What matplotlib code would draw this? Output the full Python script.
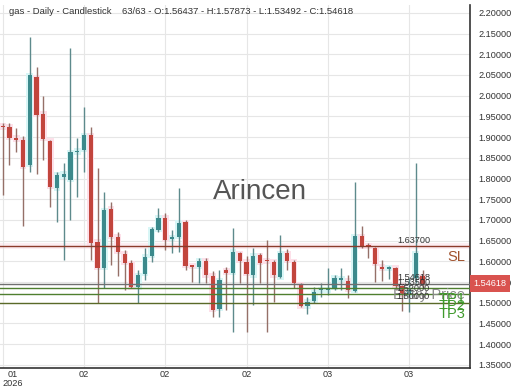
import matplotlib
matplotlib.use("Agg")
import matplotlib.pyplot as plt
import matplotlib.transforms as mtransforms
import numpy as np

plt.rcParams['font.family'] = ['Liberation Sans', 'DejaVu Sans']

title = "gas - Daily - Candlestick    63/63 - O:1.56437 - H:1.57873 - L:1.53492 - C:1.54618"
watermark = "Arincen"

opens = [1.926, 1.925, 1.898, 1.893, 1.833, 2.045, 1.956, 1.891, 1.777, 1.804,
         1.797, 1.864, 1.869, 1.905, 1.647, 1.584, 1.727, 1.659, 1.618, 1.596,
         1.538, 1.570, 1.613, 1.676, 1.705, 1.655, 1.659, 1.695, 1.589, 1.587,
         1.601, 1.565, 1.485, 1.579, 1.572, 1.620, 1.599, 1.567, 1.615, 1.602,
         1.599, 1.562, 1.620, 1.599, 1.545, 1.492, 1.504, 1.530, 1.530, 1.536,
         1.556, 1.553, 1.529, 1.661, 1.638, 1.632, 1.587, 1.582, 1.584, 1.541,
         1.519, 1.560, 1.56437]
highs = [1.934, 1.934, 1.922, 1.903, 2.142, 2.070, 2.000, 1.893, 1.816, 1.838,
         2.115, 1.898, 1.973, 1.925, 1.826, 1.768, 1.743, 1.672, 1.628, 1.603,
         1.578, 1.632, 1.683, 1.729, 1.717, 1.676, 1.777, 1.700, 1.591, 1.608,
         1.608, 1.577, 1.579, 1.586, 1.681, 1.623, 1.612, 1.632, 1.620, 1.652,
         1.603, 1.664, 1.630, 1.603, 1.548, 1.515, 1.538, 1.548, 1.584, 1.567,
         1.584, 1.567, 1.792, 1.686, 1.644, 1.635, 1.603, 1.589, 1.586, 1.543,
         1.560, 1.838, 1.57873]
lows = [1.760, 1.833, 1.864, 1.686, 1.816, 1.811, 1.845, 1.731, 1.695, 1.603,
        1.700, 1.756, 1.816, 1.603, 1.500, 1.536, 1.591, 1.565, 1.531, 1.536,
        1.500, 1.555, 1.599, 1.671, 1.628, 1.620, 1.623, 1.579, 1.550, 1.548,
        1.548, 1.466, 1.466, 1.483, 1.429, 1.548, 1.429, 1.495, 1.548, 1.429,
        1.502, 1.560, 1.579, 1.536, 1.490, 1.473, 1.500, 1.514, 1.519, 1.531,
        1.531, 1.512, 1.526, 1.632, 1.608, 1.550, 1.553, 1.557, 1.531, 1.480,
        1.478, 1.548, 1.53492]
closes = [1.924, 1.898, 1.893, 1.828, 2.050, 1.954, 1.896, 1.780, 1.809, 1.811,
          1.864, 1.867, 1.905, 1.644, 1.584, 1.724, 1.659, 1.623, 1.596, 1.538,
          1.567, 1.611, 1.678, 1.705, 1.652, 1.658, 1.693, 1.589, 1.587, 1.601,
          1.567, 1.483, 1.555, 1.572, 1.623, 1.601, 1.570, 1.613, 1.596, 1.600,
          1.567, 1.620, 1.601, 1.548, 1.492, 1.502, 1.526, 1.532, 1.531, 1.560,
          1.558, 1.531, 1.661, 1.635, 1.636, 1.594, 1.582, 1.586, 1.541, 1.519,
          1.530, 1.620, 1.54618]

tick_idx = [0, 12, 24, 36, 48, 60]
tick_labels = ["01\n2026", "02", "02", "02", "03", "03"]
y_ticks = [1.35, 1.40, 1.45, 1.50, 1.55, 1.60, 1.65, 1.70, 1.75, 1.80,
           1.85, 1.90, 1.95, 2.00, 2.05, 2.10, 2.15, 2.20]

level_prices = [1.637, 1.54618, 1.535, 1.52, 1.50]
level_values = ["1.63700", "1.54618", "1.53500", "1.52000", "1.50000"]
level_names = ["SL", "Entry Price", "TP1", "TP2", "TP3"]
last_price = 1.54618

# ---------------------------------------------------------------
W, H = 520, 390
fig = plt.figure(figsize=(W / 100, H / 100), dpi=100)
ax = fig.add_axes([0, 1 - 368 / H, 470 / W, (368 - 5) / H])

n = len(opens)
x = np.arange(n)
o = np.array(opens); c = np.array(closes); hi = np.array(highs); lo = np.array(lows)
up = c >= o

red, teal = '#c2453d', '#3c8a8c'
red_wick, teal_wick = '#957068', '#5d8a8c'
red_glow, teal_glow = '#fde0e9', '#d8f6f6'

bot = np.minimum(o, c)
top = np.maximum(o, c)
height = np.maximum(top - bot, 0.003)

# glow behind bodies
ax.bar(x, height + 0.012, bottom=bot - 0.006, width=1.0,
       color=np.where(up, teal_glow, red_glow), zorder=1, linewidth=0)
# wicks
ax.vlines(x, lo, hi, colors=np.where(up, teal_wick, red_wick), linewidth=1.0, zorder=3)
# bodies
ax.bar(x, height, bottom=bot, width=0.62,
       color=np.where(up, teal, red), zorder=4, linewidth=0)

# levels
line_colors = ['#8b3b2b', '#707070', '#4f7f2f', '#4f7f2f', '#5a6a28']
name_colors = ['#a0522d', '#8a8a8a', '#3f9a2c', '#3f9a2c', '#3f9a2c']
ax.axhspan(level_prices[0] - 0.007, level_prices[0] + 0.007, color='#fdeef2', zorder=0.5, linewidth=0)
for p, v, nm, lc, nc in zip(level_prices, level_values, level_names, line_colors, name_colors):
    ax.axhline(p, color=lc, linewidth=1.0, zorder=5)
    ax.annotate(v, xy=(63.1, p), xytext=(0, 1), textcoords='offset points',
                ha='right', va='bottom', fontsize=6.6, color='#333333', zorder=6)
    ax.annotate(nm, xy=(68.3, p), xytext=(0, -8), textcoords='offset points',
                ha='right', va='center', fontsize=10.5, color=nc, zorder=6)

# axes styling
ax.set_xlim(-0.4, 69.0)
ax.set_ylim(1.3425, 2.219)
ax.set_facecolor('white')
for s in ['left', 'top']:
    ax.spines[s].set_visible(False)
for s in ['right', 'bottom']:
    ax.spines[s].set_color('#333333')
    ax.spines[s].set_linewidth(1.2)

ax.yaxis.tick_right()
ax.set_yticks(y_ticks)
ax.set_yticklabels([f"{t:.5f}" for t in y_ticks])
ax.tick_params(axis='y', length=0, pad=6, labelsize=6.6, labelcolor='#333333')
ax.set_xticks(tick_idx)
ax.set_xticklabels(tick_labels)
ax.tick_params(axis='x', length=0, pad=1.5, labelsize=6.6, labelcolor='#333333')
lbls = ax.get_xticklabels()
lbls[0].set_ha('left')
lbls[0].set_multialignment('center')
lbls[0].set_linespacing(0.95)
ax.grid(True, color='#e6e6e6', linewidth=0.8, zorder=0)
ax.set_axisbelow(True)

# last price tag
trans = mtransforms.blended_transform_factory(ax.transAxes, ax.transData)
ax.text(1.007, last_price, f"{last_price:.5f}", transform=trans, ha='left', va='center',
        fontsize=6.6, color='white', clip_on=False, zorder=10,
        bbox=dict(boxstyle='square,pad=0.4', facecolor='#d9534f', edgecolor='none'))

# watermark and title
fig.text(260 / W, 1 - 192 / H, watermark, ha='center', va='center', fontsize=20, color='#555555')
fig.text(9 / W, 1 - 12 / H, title, ha='left', va='center', fontsize=6.8, color='#333333')

fig.savefig("out.png", dpi=100)
